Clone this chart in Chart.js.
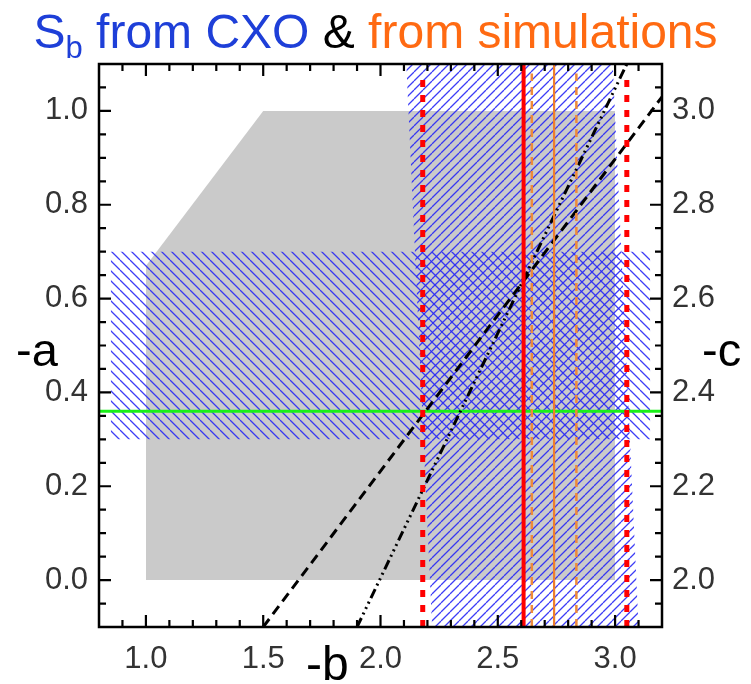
<!DOCTYPE html>
<html>
<head>
<meta charset="utf-8">
<script src="https://cdn.jsdelivr.net/npm/chart.js@4/dist/chart.umd.min.js"></script>
<style>
  html, body { margin: 0; padding: 0; background: #fff; }
  #wrap { position: relative; width: 751px; height: 684px; overflow: hidden; }
  canvas { position: absolute; left: 0; top: 0; }
  .lbl { position: absolute; font-family: "Liberation Sans", Arial, sans-serif; white-space: nowrap; line-height: 1; }
  #title { left: 0; width: 751px; text-align: center; top: 8px; font-size: 48px; }
  #title sub { font-size: 31px; vertical-align: -10px; line-height: 0; }
  #la { left: 16px; top: 326px; font-size: 47px; color: #000; }
  #lc { left: 702px; top: 326px; font-size: 47px; color: #000; }
  #lb { left: 306px; top: 640px; font-size: 48px; color: #000; }
</style>
</head>
<body>
<div id="wrap">
  <canvas id="c" width="751" height="684"></canvas>
  <div id="title" class="lbl"><span style="color:#1e3fd8">S<sub>b</sub> from CXO</span> <span style="color:#000">&amp;</span> <span style="color:#ff6a12">from simulations</span></div>
  <div id="la" class="lbl">-a</div>
  <div id="lc" class="lbl">-c</div>
  <div id="lb" class="lbl">-b</div>
</div>
<script>
// ---- tick labels ----
const bTicks = [1.0, 1.5, 2.0, 2.5, 3.0];
const aTicks = [0.0, 0.2, 0.4, 0.6, 0.8, 1.0];
const cTicks = [2.0, 2.2, 2.4, 2.6, 2.8, 3.0];

// ---- grey allowed region (b, a) ----
const greyB = [1.0, 1.5, 3.0];
const greyA = [0.67, 1.0, 1.0];

// ---- CXO band in a (hatched \\) ----
const cxoBandB = [0.85, 3.15];
const cxoBandA = [0.3, 0.7];

// ---- simulations band in b (hatched /) ----
const simBandB = [2.11, 2.99, 3.10, 2.22];
const simBandA = [1.1, 1.1, -0.1, -0.1];

// ---- lines ----
const greenA = 0.36;
const redSolidB = 2.61;
const redDottedB = [2.18, 3.05];
const orangeSolidB = 2.74;
const orangeDashedB = [2.645, 2.835];
const dashedLineB = [1.5, 3.2];
const dashedLineA = [-0.1, 1.03];
const dashDotLineB = [1.9, 3.05];
const dashDotLineA = [-0.1, 1.1];

const A_MIN = -0.1, A_MAX = 1.1, B_MIN = 0.8, B_MAX = 3.2, C_MIN = 1.9, C_MAX = 3.1;

function hatch(dir, s, color, lw) {
  const cv = document.createElement('canvas');
  cv.width = s; cv.height = s;
  const g = cv.getContext('2d');
  g.strokeStyle = color; g.lineWidth = lw;
  g.beginPath();
  for (let k = -1; k <= 1; k++) {
    if (dir === '/') { g.moveTo(k * s, s); g.lineTo(k * s + s, 0); }
    else { g.moveTo(k * s, 0); g.lineTo(k * s + s, s); }
  }
  g.stroke();
  return g.createPattern(cv, 'repeat');
}
const patBack = hatch('\\', 10, 'rgba(40,40,245,0.9)', 1.3);
const patFwd = hatch('/', 9, 'rgba(40,40,245,0.9)', 1.3);

const pts = (xs, ys) => xs.map((x, i) => ({x, y: ys[i]}));
const vline = (x, top) => [{x, y: A_MIN}, {x, y: top}];

const base = { pointRadius: 0, pointHoverRadius: 0, tension: 0, showLine: true };

const datasets = [
  Object.assign({}, base, { label: 'grey', data: pts(greyB, greyA), borderWidth: 0, borderColor: 'rgba(0,0,0,0)', backgroundColor: '#cacaca', fill: 'origin', order: 20 }),
  Object.assign({}, base, { label: 'cxo', data: pts(cxoBandB, [cxoBandA[1], cxoBandA[1]]), borderWidth: 0, borderColor: 'rgba(0,0,0,0)', backgroundColor: patBack, fill: {value: cxoBandA[0]}, order: 19 }),
  Object.assign({}, base, { label: 'sim', data: pts(simBandB.concat([simBandB[0]]), simBandA.concat([simBandA[0]])), borderWidth: 0, borderColor: 'rgba(0,0,0,0)', backgroundColor: patFwd, fill: 'shape', order: 18 }),
  Object.assign({}, base, { label: 'green', data: [{x: B_MIN, y: greenA}, {x: B_MAX, y: greenA}], borderColor: '#19f019', borderWidth: 3, fill: false, order: 10 }),
  Object.assign({}, base, { label: 'dashed', data: pts(dashedLineB, dashedLineA), borderColor: '#000', borderWidth: 3, borderDash: [10, 6], fill: false, order: 9 }),
  Object.assign({}, base, { label: 'dashdot', data: pts(dashDotLineB, dashDotLineA), borderColor: '#000', borderWidth: 3, borderDash: [10, 4, 2, 4, 2, 4, 2, 4], fill: false, order: 8 }),
  Object.assign({}, base, { label: 'orangeD1', data: vline(orangeDashedB[0], 1.08), borderColor: '#ee8a3a', borderWidth: 2.5, borderDash: [8, 6], fill: false, order: 7 }),
  Object.assign({}, base, { label: 'orangeD2', data: vline(orangeDashedB[1], 1.08), borderColor: '#ee8a3a', borderWidth: 2.5, borderDash: [8, 6], fill: false, order: 6 }),
  Object.assign({}, base, { label: 'orange', data: vline(orangeSolidB, A_MAX), borderColor: '#ee7f2c', borderWidth: 2.2, fill: false, order: 5 }),
  Object.assign({}, base, { label: 'redDot1', data: vline(redDottedB[0], 1.08), borderColor: '#ff0000', borderWidth: 5, borderDash: [7, 8], fill: false, order: 4 }),
  Object.assign({}, base, { label: 'redDot2', data: vline(redDottedB[1], 1.08), borderColor: '#ff0000', borderWidth: 5, borderDash: [7, 8], fill: false, order: 3 }),
  Object.assign({}, base, { label: 'red', data: vline(redSolidB, A_MAX), borderColor: '#ff0000', borderWidth: 4, fill: false, order: 2 })
];

const tickFont = { family: '"Liberation Sans", Arial, sans-serif', size: 31 };
const tickColor = '#333333';
const fmt = v => Number(v).toFixed(1);

const frame = {
  id: 'frame',
  afterDatasetsDraw(chart) {
    const {ctx, chartArea: ca, scales} = chart;
    ctx.save();
    ctx.strokeStyle = '#000';
    ctx.lineWidth = 2.2;
    ctx.lineCap = 'butt';
    ctx.beginPath();
    for (let i = 9; i <= 31; i++) {
      const px = scales.x.getPixelForValue(i / 10);
      const L = (i % 5 === 0) ? 12 : 7;
      ctx.moveTo(px, ca.bottom); ctx.lineTo(px, ca.bottom - L);
      ctx.moveTo(px, ca.top); ctx.lineTo(px, ca.top + L);
    }
    for (let i = -1; i <= 21; i++) {
      const py = scales.y.getPixelForValue(i * 0.05);
      const L = (i % 4 === 0) ? 12 : 7;
      ctx.moveTo(ca.left, py); ctx.lineTo(ca.left + L, py);
    }
    for (let i = 39; i <= 61; i++) {
      const py = scales.y2.getPixelForValue(i * 0.05);
      const L = (i % 4 === 0) ? 12 : 7;
      ctx.moveTo(ca.right, py); ctx.lineTo(ca.right - L, py);
    }
    ctx.stroke();
    ctx.lineWidth = 2.5;
    ctx.strokeRect(ca.left, ca.top, ca.right - ca.left, ca.bottom - ca.top);
    ctx.restore();
  }
};

new Chart(document.getElementById('c'), {
  type: 'line',
  data: { datasets },
  options: {
    responsive: false,
    animation: false,
    events: [],
    layout: { padding: { top: 64, left: 0, right: 0, bottom: 0 } },
    plugins: { legend: { display: false }, tooltip: { enabled: false }, title: { display: false } },
    scales: {
      x: {
        type: 'linear', position: 'bottom', min: B_MIN, max: B_MAX,
        grid: { display: false, drawTicks: false }, border: { display: false },
        ticks: { font: tickFont, color: tickColor, padding: 14, maxRotation: 0, callback: fmt },
        afterBuildTicks: s => { s.ticks = bTicks.map(v => ({value: v})); },
        afterFit: s => { s.height = 57; }
      },
      y: {
        type: 'linear', position: 'left', min: A_MIN, max: A_MAX,
        grid: { display: false, drawTicks: false }, border: { display: false },
        ticks: { font: tickFont, color: tickColor, padding: 11, callback: fmt },
        afterBuildTicks: s => { s.ticks = aTicks.map(v => ({value: v})); },
        afterFit: s => { s.width = 99; }
      },
      y2: {
        type: 'linear', position: 'right', min: C_MIN, max: C_MAX, display: true,
        grid: { display: false, drawTicks: false }, border: { display: false },
        ticks: { font: tickFont, color: tickColor, padding: 10, callback: fmt },
        afterBuildTicks: s => { s.ticks = cTicks.map(v => ({value: v})); },
        afterFit: s => { s.width = 89; }
      }
    }
  },
  plugins: [frame]
});
</script>
</body>
</html>
